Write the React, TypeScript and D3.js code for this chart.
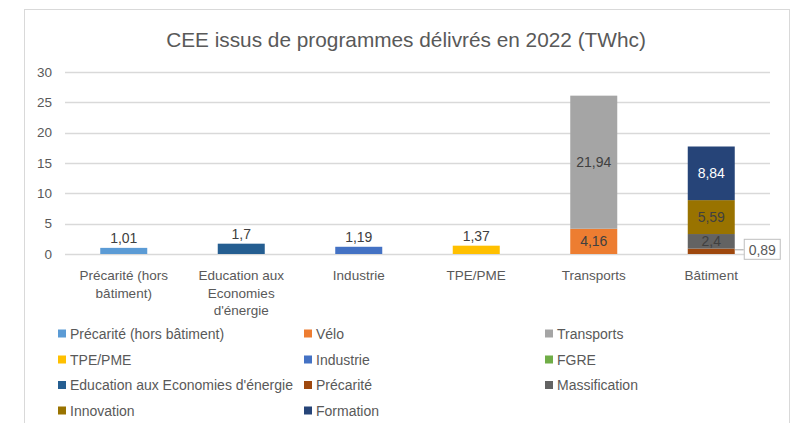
import React from "react";
import * as d3 from "d3";

const title = "CEE issus de programmes délivrés en 2022 (TWhc)";
const categories = [
  "Précarité (hors bâtiment)",
  "Education aux Economies d'énergie",
  "Industrie",
  "TPE/PME",
  "Transports",
  "Bâtiment",
];
const categoryLines = [
  ["Précarité (hors", "bâtiment)"],
  ["Education aux", "Economies", "d'énergie"],
  ["Industrie"],
  ["TPE/PME"],
  ["Transports"],
  ["Bâtiment"],
];
const seriesNames = [
  "Précarité (hors bâtiment)",
  "Vélo",
  "Transports",
  "TPE/PME",
  "Industrie",
  "FGRE",
  "Education aux Economies d'énergie",
  "Précarité",
  "Massification",
  "Innovation",
  "Formation",
];
const seriesColors = [
  "#5B9BD5",
  "#ED7D31",
  "#A5A5A5",
  "#FFC000",
  "#4472C4",
  "#70AD47",
  "#255E91",
  "#9E480E",
  "#636363",
  "#997300",
  "#264478",
];
// values per series, aligned with categories
const precariteHorsBatiment = [1.01, 0, 0, 0, 0, 0];
const velo = [0, 0, 0, 0, 4.16, 0];
const transports = [0, 0, 0, 0, 21.94, 0];
const tpePme = [0, 0, 0, 1.37, 0, 0];
const industrie = [0, 0, 1.19, 0, 0, 0];
const fgre = [0, 0, 0, 0, 0, 0];
const education = [0, 1.7, 0, 0, 0, 0];
const precarite = [0, 0, 0, 0, 0, 0.89];
const massification = [0, 0, 0, 0, 0, 2.4];
const innovation = [0, 0, 0, 0, 0, 5.59];
const formation = [0, 0, 0, 0, 0, 8.84];
const seriesValues = [
  precariteHorsBatiment,
  velo,
  transports,
  tpePme,
  industrie,
  fgre,
  education,
  precarite,
  massification,
  innovation,
  formation,
];
const yTicks = [0, 5, 10, 15, 20, 25, 30];

const FONT = "'Liberation Sans', Arial, sans-serif";
const TXT = "#595959";

export default function App() {
  const W = 798;
  const H = 423;
  const rows = categories.map((c, i) => {
    const r: any = { cat: c };
    seriesNames.forEach((s, j) => (r[s] = seriesValues[j][i]));
    return r;
  });
  const stack = d3.stack<any>().keys(seriesNames)(rows);
  const x = d3
    .scaleBand<string>()
    .domain(categories)
    .range([65, 770])
    .paddingInner(0.6)
    .paddingOuter(0.3);
  const y = d3.scaleLinear().domain([0, 30]).range([254, 72]);
  const fmt = (v: number) => String(v).replace(".", ",");

  const segs: any[] = [];
  stack.forEach((layer, si) => {
    layer.forEach((d, ci) => {
      const v = seriesValues[si][ci];
      if (!v) return;
      segs.push({ si, ci, y0: d[0], y1: d[1], v });
    });
  });

  const legendCols = [58, 304, 545];
  const legendRows = [333.5, 359.5, 385, 410.5];

  return (
    <svg width={W} height={H} style={{ position: "absolute", left: 0, top: 0, fontFamily: FONT }}>
      <rect x={0} y={0} width={W} height={H} fill="#fff" />
      <rect x={24.5} y={9.5} width={765} height={430} fill="#fff" stroke="#d9d9d9" />
      <text x={406} y={47} textAnchor="middle" fontSize={20.8} fill={TXT}>
        {title}
      </text>
      {yTicks.map((t) => (
        <g key={t}>
          <line x1={65} x2={770} y1={Math.round(y(t)) + 0.5} y2={Math.round(y(t)) + 0.5} stroke="#d9d9d9" strokeWidth={1.3} />
          <text x={52} y={y(t) + 4.8} textAnchor="end" fontSize={13.5} fill={TXT}>
            {t}
          </text>
        </g>
      ))}
      {segs.map((s, i) => (
        <rect
          key={i}
          x={x(categories[s.ci])}
          y={y(s.y1)}
          width={x.bandwidth()}
          height={y(s.y0) - y(s.y1)}
          fill={seriesColors[s.si]}
        />
      ))}
      {segs.map((s, i) => {
        const cx = (x(categories[s.ci]) as number) + x.bandwidth() / 2;
        const h = y(s.y0) - y(s.y1);
        if (seriesNames[s.si] === "Précarité") {
          const bx = (x(categories[s.ci]) as number) + x.bandwidth();
          const my = (y(s.y0) + y(s.y1)) / 2 - 1.5;
          return (
            <g key={"l" + i}>
              <line x1={bx} y1={my} x2={bx + 9} y2={my} stroke="#a6a6a6" />
              <rect x={bx + 9.5} y={my - 10.5} width={36} height={20} fill="#fff" stroke="#bfbfbf" />
              <text x={bx + 27.5} y={my + 5} textAnchor="middle" fontSize={14} fill={TXT}>
                {fmt(s.v)}
              </text>
            </g>
          );
        }
        if (h < 14) {
          return (
            <text key={"l" + i} x={cx} y={y(s.y1) - 5} textAnchor="middle" fontSize={14} fill="#404040">
              {fmt(s.v)}
            </text>
          );
        }
        return (
          <text
            key={"l" + i}
            x={cx}
            y={(y(s.y0) + y(s.y1)) / 2 + 5}
            textAnchor="middle"
            fontSize={14}
            fill={seriesNames[s.si] === "Formation" ? "#ffffff" : "#404040"}
          >
            {fmt(s.v)}
          </text>
        );
      })}
      {categoryLines.map((lines, ci) => (
        <text key={ci} textAnchor="middle" fontSize={13.5} fill={TXT}>
          {lines.map((ln, k) => (
            <tspan key={k} x={(x(categories[ci]) as number) + x.bandwidth() / 2} y={280 + k * 17.5}>
              {ln}
            </tspan>
          ))}
        </text>
      ))}
      {seriesNames.map((s, i) => {
        const col = i % 3;
        const row = Math.floor(i / 3);
        const lx = legendCols[col];
        const ly = legendRows[row];
        return (
          <g key={s}>
            <rect x={lx} y={ly - 4} width={8} height={8} fill={seriesColors[i]} />
            <text x={lx + 12} y={ly + 5} fontSize={14} fill={TXT}>
              {s}
            </text>
          </g>
        );
      })}
    </svg>
  );
}
